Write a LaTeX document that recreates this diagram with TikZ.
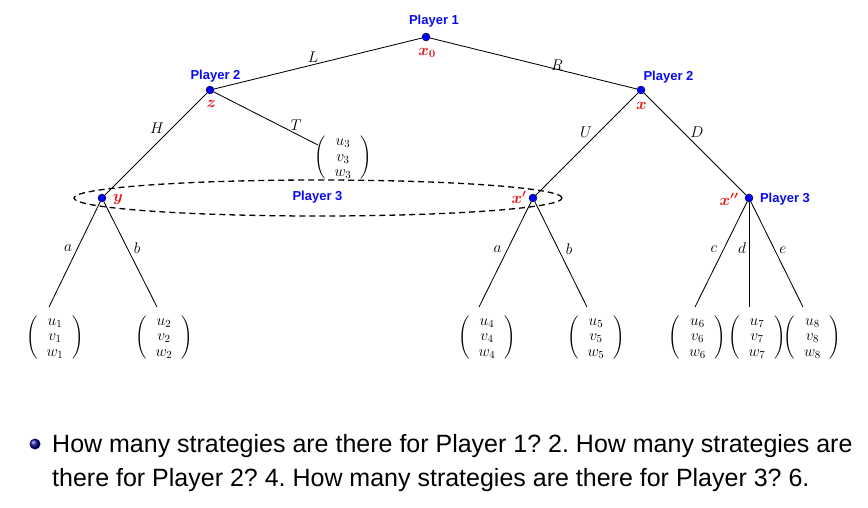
\RequirePackage{fix-cm}
\documentclass[tikz,border=0pt]{standalone}
\usepackage[no-math]{fontspec}
\usepackage{amsmath,bm}
\newfontfamily\arialf{Liberation Sans}
\usetikzlibrary{shapes.geometric,shadings}
\definecolor{pblue}{RGB}{10,10,240}
\definecolor{pred}{RGB}{235,20,20}
\newcommand\pvec[3]{$\left(\hspace{4pt}\begin{array}{c}#1\\#2\\#3\end{array}\hspace{4pt}\right)$}
\frenchspacing
\begin{document}
\begin{tikzpicture}[x=1pt,y=-1pt,
  dot/.style={circle, fill=blue, draw=black, line width=0.4pt, inner sep=0pt, minimum size=8pt},
  plab/.style={font=\arialf\bfseries\fontsize{13}{15}\selectfont, text=pblue, inner sep=0},
  rlab/.style={text=pred, font=\fontsize{16}{18}\selectfont, inner sep=0},
  elab/.style={font=\fontsize{15.5}{17}\selectfont, inner sep=0},
  payoff/.style={font=\fontsize{15.5}{15.5}\selectfont, inner sep=0},
  edge/.style={line width=0.85pt},
  infoset/.style={dashed, dash pattern=on 6pt off 4pt, line width=1.3pt},
  btext/.style={font=\arialf\fontsize{25}{30}\selectfont, anchor=base west, inner sep=0}]
\useasboundingbox (0,0) rectangle (868,507);

% information set
\draw[infoset] (318,198) ellipse [x radius=244pt, y radius=18pt];

% decision nodes
\node[dot] (x0) at (426,37) {};
\node[dot] (z) at (210,90) {};
\node[dot] (x) at (641,90) {};
\node[dot] (y) at (102,198) {};
\node[dot] (xp) at (533,198) {};
\node[dot] (xpp) at (749,198) {};

% payoff vectors
\node[payoff] (v3) at (343,158) {\pvec{u_3}{v_3}{w_3}};
\node[payoff] (v1) at (55,337.5) {\pvec{u_1}{v_1}{w_1}};
\node[payoff] (v2) at (164,337.5) {\pvec{u_2}{v_2}{w_2}};
\node[payoff] (v4) at (487,337.5) {\pvec{u_4}{v_4}{w_4}};
\node[payoff] (v5) at (596,337.5) {\pvec{u_5}{v_5}{w_5}};
\node[payoff] (v6) at (697.5,337.5) {\pvec{u_6}{v_6}{w_6}};
\node[payoff] (v7) at (757,337.5) {\pvec{u_7}{v_7}{w_7}};
\node[payoff] (v8) at (812.5,337.5) {\pvec{u_8}{v_8}{w_8}};

% connector ends
\coordinate (e3) at (318,145);
\coordinate (e1) at (49,307);
\coordinate (e2) at (157,307);
\coordinate (e4) at (479,307);
\coordinate (e5) at (587,307);
\coordinate (e6) at (695,307);
\coordinate (e7) at (749,307);
\coordinate (e8) at (803,307);

% edges
\draw[edge] (x0) -- (z);
\draw[edge] (x0) -- (x);
\draw[edge] (z) -- (y);
\draw[edge] (z) -- (e3);
\draw[edge] (x) -- (xp);
\draw[edge] (x) -- (xpp);
\draw[edge] (y) -- (e1);
\draw[edge] (y) -- (e2);
\draw[edge] (xp) -- (e4);
\draw[edge] (xp) -- (e5);
\draw[edge] (xpp) -- (e6);
\draw[edge] (xpp) -- (e7);
\draw[edge] (xpp) -- (e8);

% edge labels
\node[elab] (lL) at (313,57) {$L$};
\node[elab] (lR) at (557,65) {$R$};
\node[elab] (lH) at (157,128) {$H$};
\node[elab] (lT) at (296,125) {$T$};
\node[elab] (lU) at (586,132) {$U$};
\node[elab] (lD) at (697,132) {$D$};
\node[elab] (la1) at (68,248) {$a$};
\node[elab] (lb1) at (137,248) {$b$};
\node[elab] (la2) at (497.5,249) {$a$};
\node[elab] (lb2) at (569,249) {$b$};
\node[elab] (lc) at (714,249) {$c$};
\node[elab] (ld) at (742,248) {$d$};
\node[elab] (le) at (783,250) {$e$};

% player labels
\node[plab] (p1) at (434,21) {Player 1};
\node[plab] (p2l) at (215.5,76) {Player 2};
\node[plab] (p2r) at (668.5,77) {Player 2};
\node[plab] (p3m) at (317.5,197.5) {Player 3};
\node[plab] (p3r) at (785,199) {Player 3};

% node names
\node[rlab] (nx0) at (427,53) {$\bm{x_0}$};
\node[rlab] (nz) at (211.5,104) {$\bm{z}$};
\node[rlab] (nx) at (641.5,106) {$\bm{x}$};
\node[rlab] (ny) at (118,199) {$\bm{y}$};
\node[rlab] (nxp) at (519,197) {$\bm{x'}$};
\node[rlab] (nxpp) at (729,199) {$\bm{x''}$};

% bullet text
\node[circle, shading=ball, ball color=pblue!60!black, minimum size=11pt, inner sep=0] (bul) at (35,444) {};
\node[btext] (t1) at (52,452) {How many strategies are there for Player 1? 2. How many strategies are};
\node[btext] (t2) at (52,486) {there for Player 2? 4. How many strategies are there for Player 3? 6.};
\end{tikzpicture}
\end{document}
